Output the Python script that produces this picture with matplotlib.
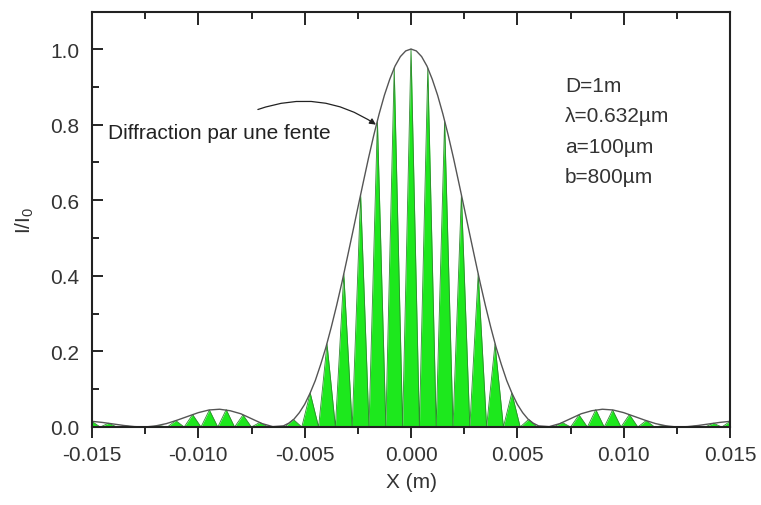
import numpy as np
import matplotlib
matplotlib.use("Agg")
import matplotlib.pyplot as plt
from matplotlib.ticker import MultipleLocator, FormatStrFormatter

plt.rcParams['font.family'] = ['Liberation Sans', 'DejaVu Sans']
plt.rcParams['mathtext.default'] = 'regular'

# enveloppe (sinc^2) : pas 0.0005 m sur les bords, 0.00025 m au centre
env_x = np.concatenate([np.linspace(-0.015, -0.0065, 18),
                        np.linspace(-0.006, 0.006, 49),
                        np.linspace(0.0065, 0.015, 18)])
env_y = [0.015, 0.012, 0.008, 0.004, 0.001, 0.000, 0.003, 0.009, 0.018,
         0.028, 0.038, 0.045, 0.047, 0.043, 0.035, 0.022, 0.009, 0.001,
         0.003, 0.010, 0.021, 0.038, 0.060, 0.089, 0.123, 0.165, 0.211,
         0.264, 0.321, 0.382, 0.447, 0.513, 0.580, 0.646, 0.711, 0.772,
         0.828, 0.878, 0.920, 0.955, 0.980, 0.995,
         1.000,
         0.995, 0.980, 0.955, 0.920, 0.878, 0.828, 0.772, 0.711, 0.646,
         0.580, 0.513, 0.447, 0.382, 0.321, 0.264, 0.211, 0.165, 0.123,
         0.089, 0.060, 0.038, 0.021, 0.010, 0.003,
         0.001, 0.009, 0.022, 0.035, 0.043, 0.047, 0.045, 0.038, 0.028,
         0.018, 0.009, 0.003, 0.000, 0.001, 0.004, 0.008, 0.012, 0.015]

# franges (position du maximum, hauteur)
fringe_x = [-0.01501, -0.01422, -0.01343, -0.01264, -0.01185, -0.01106, -0.01027,
            -0.00948, -0.00869, -0.00790, -0.00711, -0.00632, -0.00553, -0.00474,
            -0.00395, -0.00316, -0.00237, -0.00158, -0.00079, 0.0,
            0.00079, 0.00158, 0.00237, 0.00316, 0.00395, 0.00474, 0.00553,
            0.00632, 0.00711, 0.00790, 0.00869, 0.00948, 0.01027, 0.01106,
            0.01185, 0.01264, 0.01343, 0.01422, 0.01501]
fringe_y = [0.015, 0.010, 0.003, 0.000, 0.004, 0.017, 0.033,
            0.045, 0.046, 0.032, 0.012, 0.000, 0.020, 0.090,
            0.220, 0.405, 0.615, 0.810, 0.950, 1.000,
            0.950, 0.810, 0.615, 0.405, 0.220, 0.090, 0.020,
            0.000, 0.012, 0.032, 0.046, 0.045, 0.033, 0.017,
            0.004, 0.000, 0.003, 0.010, 0.015]

params = ["D=1m", "λ=0.632µm", "a=100µm", "b=800µm"]
x_ticks = [-0.015, -0.010, -0.005, 0.000, 0.005, 0.010, 0.015]
y_ticks = [0.0, 0.2, 0.4, 0.6, 0.8, 1.0]

fig = plt.figure(figsize=(7.61, 5.06), dpi=100)
ax = fig.add_axes([92 / 761, 1 - 428 / 506, 638 / 761, 415 / 506])

# profil en dents : zero entre deux franges
fx = np.array(fringe_x)
fy = np.array(fringe_y)
mids = (fx[:-1] + fx[1:]) / 2
zx = np.empty(2 * len(fx) + 1)
zy = np.zeros(2 * len(fx) + 1)
zx[1:-1:2] = fx
zy[1:-1:2] = fy
zx[2:-2:2] = mids
zx[0] = fx[0] - (fx[1] - fx[0]) / 2
zx[-1] = fx[-1] + (fx[-1] - fx[-2]) / 2

ax.fill_between(zx, zy, 0, color='#1de81d', lw=0)
ax.plot(zx, zy, color='#2f8a2f', lw=0.6)
ax.axhline(0, color='#3cb83c', lw=1.2)
ax.plot(env_x, env_y, color='#555555', lw=1.0)

ax.set_xlim(-0.015, 0.015)
ax.set_ylim(0, 1.098)
ax.set_xticks(x_ticks)
ax.set_yticks(y_ticks)
ax.xaxis.set_major_formatter(FormatStrFormatter('%.3f'))
ax.yaxis.set_major_formatter(FormatStrFormatter('%.1f'))
ax.xaxis.set_minor_locator(MultipleLocator(0.0025))
ax.yaxis.set_minor_locator(MultipleLocator(0.1))

ax.tick_params(axis='x', which='both', direction='out', top=False, labelsize=15,
               labelcolor='#333333', pad=5, width=1.2)
ax.tick_params(axis='x', which='major', length=8)
ax.tick_params(axis='x', which='minor', length=5)
ax.tick_params(axis='y', which='both', direction='in', right=False, labelsize=15,
               labelcolor='#333333', pad=9, width=1.2)
ax.tick_params(axis='y', which='major', length=8)
ax.tick_params(axis='y', which='minor', length=5)

# graduations du haut, vers l'interieur
top = ax.secondary_xaxis('top')
top.set_xticks(x_ticks)
top.xaxis.set_minor_locator(MultipleLocator(0.0025))
top.tick_params(which='both', direction='in', labeltop=False, width=1.2)
top.tick_params(which='major', length=9)
top.tick_params(which='minor', length=5)
top.spines['top'].set_visible(False)

for s in ax.spines.values():
    s.set_linewidth(1.5)
    s.set_color('#222222')

ax.set_xlabel('X (m)', fontsize=15, color='#333333', labelpad=6)
ax.set_ylabel('I/I$_0$', fontsize=15, color='#333333', labelpad=10)

ax.text(-0.01425, 0.78, 'Diffraction par une fente', fontsize=15,
        color='#222222', va='center', ha='left')
ax.annotate('', xy=(-0.00165, 0.80), xytext=(-0.0072, 0.84),
            arrowprops=dict(arrowstyle='-|>', connectionstyle='arc3,rad=-0.25',
                            color='#222222', lw=0.9, mutation_scale=9,
                            shrinkA=0, shrinkB=0))

for i, p in enumerate(params):
    ax.text(0.741, 0.822 - i * 0.0725, p, transform=ax.transAxes, fontsize=15,
            color='#333333', va='center', ha='left')

fig.savefig('out.png', dpi=100)
